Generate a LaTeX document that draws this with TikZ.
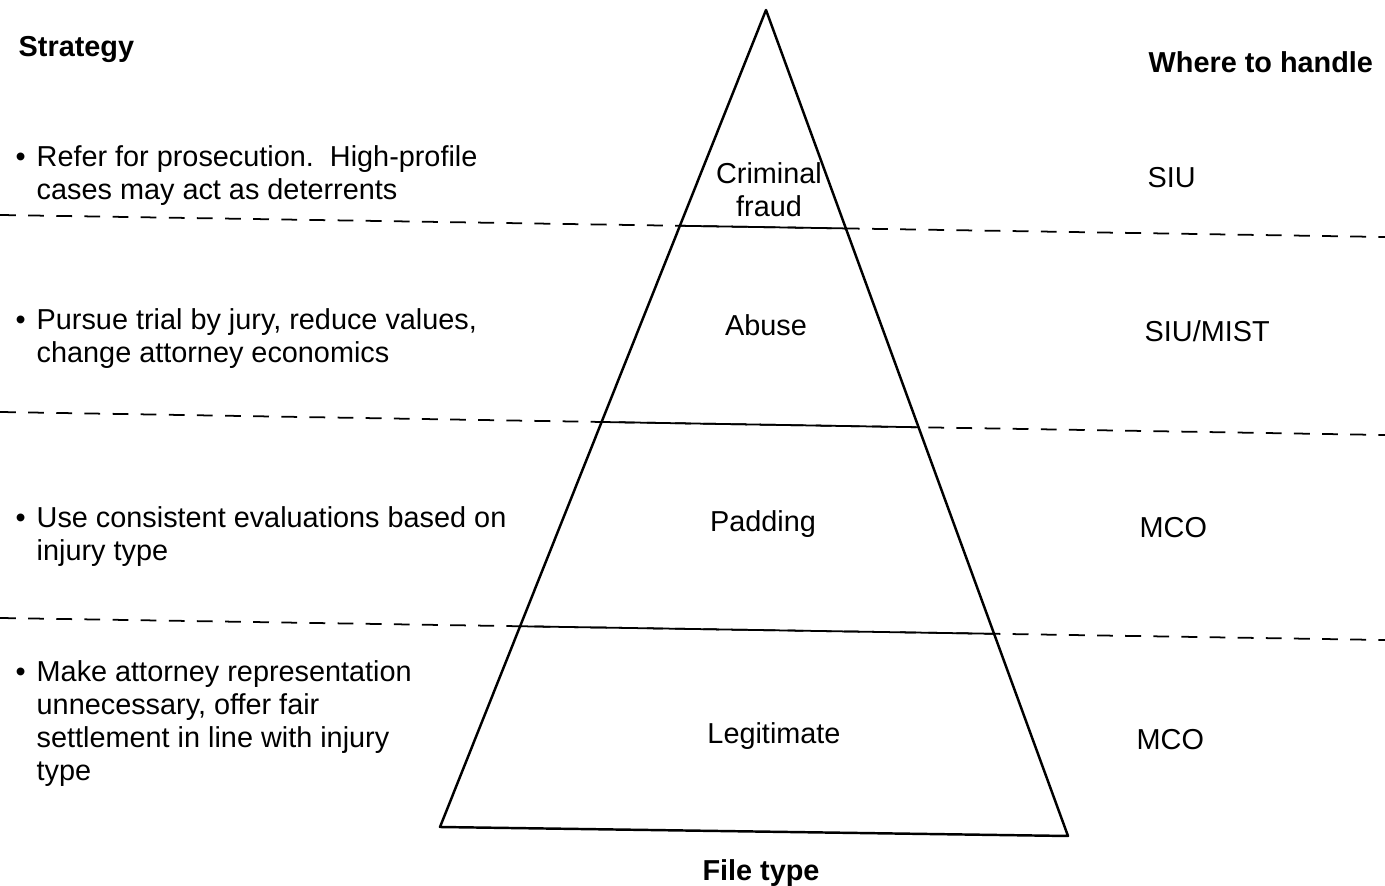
\documentclass[tikz,border=0pt]{standalone}
\usepackage{fontspec}
\setmainfont{Liberation Sans}
\usetikzlibrary{positioning}

\begin{document}
\begin{tikzpicture}[x=0.01cm,y=-0.01cm,
  font=\fontsize{8.2}{9.4}\selectfont,
  every node/.style={inner sep=0pt},
  capbox/.style={text height=5.9pt,text depth=0pt},
  head/.style={capbox,font=\fontsize{8.2}{9.4}\selectfont\bfseries},
  item/.style={anchor=north west,align=left},
  tier/.style={capbox,anchor=center},
  unit/.style={capbox,anchor=west},
  divider/.style={line width=0.5pt,dash pattern=on 4.5pt off 3.5pt}]
  \useasboundingbox (0,0) rectangle (1385,886);

  % column heads
  \node[head,anchor=west] (strat) at (18,46) {Strategy};
  \node[head,anchor=west] (where) at (1148,62) {Where to handle};
  \node[head,anchor=center] (ftype) at (761,870) {File type};

  % the pyramid
  \coordinate (apex) at (766,10);
  \coordinate (bl) at (440,827);
  \coordinate (br) at (1068,836);
  \draw[line width=0.7pt,line join=round] (apex) -- (bl) -- (br) -- cycle;

  % level dividers: dashed outside, solid inside
  \foreach \n/\a/\b in {1/215/237,2/412/435,3/618/640} {
    \coordinate (d\n l) at (0,\a);
    \coordinate (d\n r) at (1385,\b);
    \draw[divider] (d\n l) -- (d\n r);
  }
  \begin{scope}
    \clip (apex) -- (bl) -- (br) -- cycle;
    \draw[line width=0.5pt] (d1l) -- (d1r) (d2l) -- (d2r) (d3l) -- (d3r);
  \end{scope}

  % file types
  \node[anchor=north,align=center] (crim) at (769,162) {Criminal\\fraud};
  \node[tier] (abuse) at (766,325) {Abuse};
  \node[tier] (pad) at (763,521) {Padding};
  \node[tier] (legit) at (774,733) {Legitimate};

  % strategies
  \node[item] (s1) at (36,145)
    {\llap{\textbullet\hspace{3.1pt}}Refer for prosecution.\ \ High-profile\\cases may act as deterrents};
  \node[item] (s2) at (36,308)
    {\llap{\textbullet\hspace{3.1pt}}Pursue trial by jury, reduce values,\\change attorney economics};
  \node[item] (s3) at (36,506)
    {\llap{\textbullet\hspace{3.1pt}}Use consistent evaluations based on\\injury type};
  \node[item] (s4) at (36,660)
    {\llap{\textbullet\hspace{3.1pt}}Make attorney representation\\unnecessary, offer fair\\settlement in line with injury\\type};

  % where to handle
  \node[unit] (siu) at (1147,177) {SIU};
  \node[unit] (mist) at (1144,331) {SIU/MIST};
  \node[unit] (mco1) at (1139,527) {MCO};
  \node[unit] (mco2) at (1136,739) {MCO};
\end{tikzpicture}
\end{document}
